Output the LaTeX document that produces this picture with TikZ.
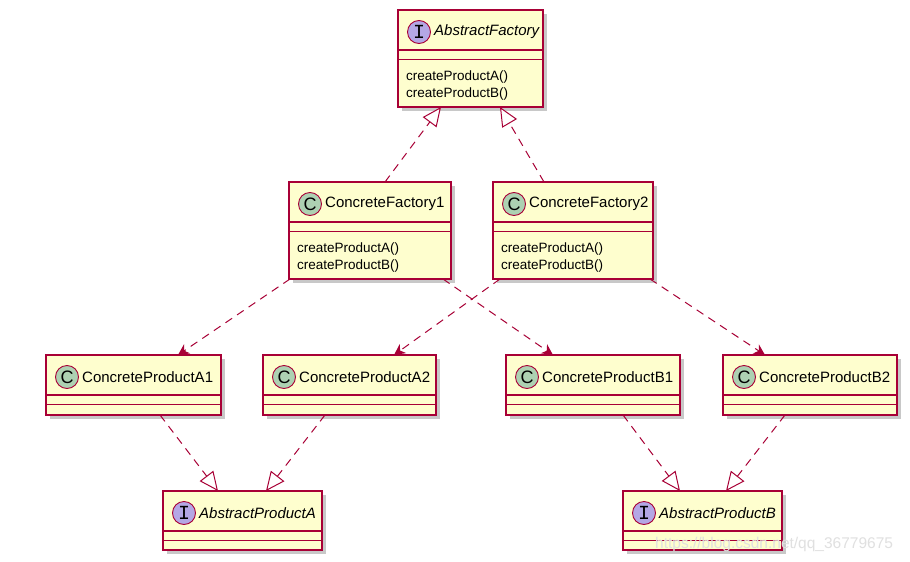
\documentclass[tikz,border=0pt]{standalone}
\usepackage{fontspec}
\setmainfont{Liberation Sans}
\newfontfamily\badgemono{Liberation Mono}
\usetikzlibrary{shadows,arrows.meta,calc}
\definecolor{umlred}{HTML}{A80036}
\definecolor{umlfill}{HTML}{FEFECE}
\definecolor{cgreen}{HTML}{ADD1B2}
\definecolor{ipurple}{HTML}{B4A7E5}
\tikzset{
  classbox/.style={draw=umlred, fill=umlfill, line width=1.4pt, rectangle, anchor=north west, inner sep=0pt, outer sep=0pt,
    drop shadow={shadow xshift=4pt, shadow yshift=-4pt, opacity=0.3, fill=black!70}},
  sepline/.style={draw=umlred, line width=1.2pt},
  badge/.style={circle, draw=umlred, line width=0.9pt, minimum size=23pt, inner sep=0pt},
  cbadge/.style={badge, fill=cgreen, font=\fontsize{18}{18}\selectfont},
  ibadge/.style={badge, fill=ipurple, font=\badgemono\fontsize{20}{20}\selectfont},
  classtitle/.style={anchor=west, inner sep=0pt, font=\fontsize{15}{17}\selectfont},
  member/.style={anchor=west, inner sep=0pt, font=\fontsize{13.5}{15}\selectfont},
  realize/.style={draw=umlred, dash pattern=on 8pt off 6pt, line width=1pt,
    -{Triangle[open, length=19pt, width=17pt, fill=white, line width=1pt]}},
  depend/.style={draw=umlred, dash pattern=on 8pt off 6pt, line width=1pt,
    -{Stealth[length=11pt, width=11pt, inset=3.5pt, line width=1pt]}},
  watermark/.style={anchor=west, inner sep=0pt, text=black!12, font=\fontsize{15.5}{17}\selectfont},
}
% #1 name, #2 x, #3 y, #4 width, #5 height, #6 badge style, #7 letter, #8 title
\newcommand\umlclass[8]{%
  \node[classbox, minimum width=#4pt, minimum height=#5pt] (#1) at (#2,#3) {};
  \draw[sepline] ([yshift=-40pt]#1.north west) -- ([yshift=-40pt]#1.north east);
  \draw[sepline] ([yshift=-49.5pt]#1.north west) -- ([yshift=-49.5pt]#1.north east);
  \node[#6] (#1-badge) at ([xshift=21pt,yshift=-22pt]#1.north west) {#7};
  \node[classtitle] (#1-title) at ([xshift=36pt,yshift=-22pt]#1.north west) {#8};
}
\newcommand\umlmembers[1]{%
  \node[member] (#1-ma) at ([xshift=8pt,yshift=-67pt]#1.north west) {createProductA()};
  \node[member] (#1-mb) at ([xshift=8pt,yshift=-84pt]#1.north west) {createProductB()};
}
\begin{document}
\begin{tikzpicture}[x=1pt,y=-1pt]
\useasboundingbox[fill=white] (0,0) rectangle (910,562);

\umlclass{af}{398}{10}{145}{97}{ibadge}{I}{\itshape AbstractFactory}
\umlmembers{af}
\umlclass{cf1}{289}{182}{162}{97}{cbadge}{C}{ConcreteFactory1}
\umlmembers{cf1}
\umlclass{cf2}{493}{182}{160}{97}{cbadge}{C}{ConcreteFactory2}
\umlmembers{cf2}

\umlclass{cpa1}{46}{355}{175}{60}{cbadge}{C}{ConcreteProductA1}
\umlclass{cpa2}{263}{355}{173}{60}{cbadge}{C}{ConcreteProductA2}
\umlclass{cpb1}{506}{355}{174}{60}{cbadge}{C}{ConcreteProductB1}
\umlclass{cpb2}{723}{355}{174}{60}{cbadge}{C}{ConcreteProductB2}

\umlclass{apa}{163}{491}{159}{59}{ibadge}{I}{\itshape AbstractProductA}
\umlclass{apb}{623}{491}{159}{59}{ibadge}{I}{\itshape AbstractProductB}

% realizations to AbstractFactory
\draw[realize] ($(cf1.north west)+(96,0)$) -- ($(af.south west)+(43,0)$);
\draw[realize] ($(cf2.north west)+(51,0)$) -- ($(af.south west)+(102,0)$);

% dependencies
\draw[depend] ($(cf1.south west)+(1,0)$) -- ($(cpa1.north west)+(132,0)$);
\draw[depend] ($(cf1.south west)+(154,0)$) -- ($(cpb1.north west)+(47,0)$);
\draw[depend] ($(cf2.south west)+(7,0)$) -- ($(cpa2.north west)+(131,0)$);
\draw[depend] ($(cf2.south west)+(157,0)$) -- ($(cpb2.north west)+(42,0)$);

% realizations to abstract products
\draw[realize] ($(cpa1.south west)+(114,0)$) -- ($(apa.north west)+(55,0)$);
\draw[realize] ($(cpa2.south west)+(62,0)$) -- ($(apa.north west)+(103,0)$);
\draw[realize] ($(cpb1.south west)+(117,0)$) -- ($(apb.north west)+(57,0)$);
\draw[realize] ($(cpb2.south west)+(62,0)$) -- ($(apb.north west)+(103,0)$);

\node[watermark] (wm) at (655,544) {https://blog.csdn.net/qq\_36779675};
\end{tikzpicture}
\end{document}
